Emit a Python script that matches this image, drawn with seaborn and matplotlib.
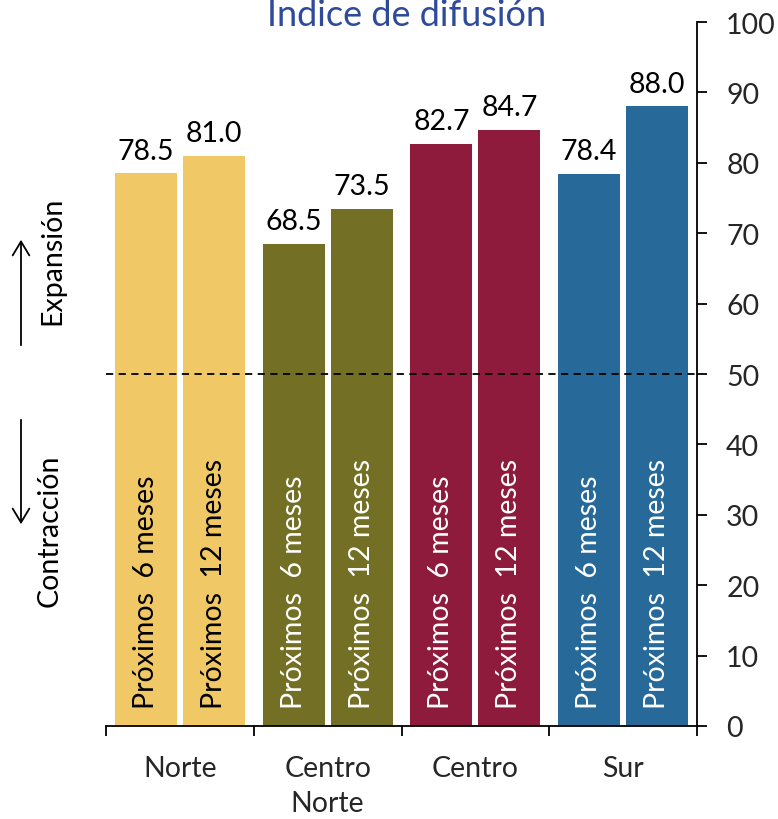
import matplotlib
matplotlib.use("Agg")
import matplotlib.pyplot as plt
import seaborn as sns
import pandas as pd
import numpy as np

regions = ["Norte", "Centro\nNorte", "Centro", "Sur"]
periods = ["Próximos  6 meses", "Próximos  12 meses"]
val_6m = [78.5, 68.5, 82.7, 78.4]
val_12m = [81.0, 73.5, 84.7, 88.0]
region_colors = ["#F0C966", "#737025", "#8E1B3C", "#276A9A"]
inner_text_colors = ["black", "white", "white", "white"]
yticks = [0, 10, 20, 30, 40, 50, 60, 70, 80, 90, 100]

df = pd.DataFrame({
    "region": regions * 2,
    "period": [periods[0]] * 4 + [periods[1]] * 4,
    "value": val_6m + val_12m,
})

sns.set_theme(style="white")
plt.rcParams["font.family"] = ["Lato", "DejaVu Sans"]

fig = plt.figure(figsize=(7.78, 8.2), dpi=100)
ax = fig.add_axes([106 / 778, 1 - 727 / 820, (697 - 106) / 778, (727 - 23) / 820])

sns.barplot(data=df, x="region", y="value", hue="period", order=regions,
            hue_order=periods, width=0.92, gap=0.087, legend=False, ax=ax,
            saturation=1, errorbar=None)

FS = 20.5
for h, (per, vals) in enumerate(zip(periods, [val_6m, val_12m])):
    for i in range(len(regions)):
        p = ax.patches[h * len(regions) + i]
        p.set_facecolor(region_colors[i])
        p.set_edgecolor("none")
        cx = p.get_x() + p.get_width() / 2
        v = p.get_height()
        ax.annotate(f"{vals[i]:.1f}", (cx, v), xytext=(0, 7), textcoords="offset points",
                    ha="center", va="bottom", fontsize=FS, color="black")
        ax.text(cx, 2.6, per, rotation=90, ha="center", va="bottom",
                fontsize=FS, color=inner_text_colors[i])

ax.axhline(50, color="black", linestyle=(0, (4, 3)), linewidth=1.3, zorder=5)

ax.set_xlim(-0.5, 3.5)
ax.set_ylim(0, 100)
ax.set_xlabel("")
ax.set_ylabel("")

ax.yaxis.tick_right()
ax.set_yticks(yticks)
ax.set_yticklabels([str(t) for t in yticks], fontsize=FS)
ax.tick_params(axis="y", which="major", direction="out", length=7, width=1.3,
               color="black", pad=14, right=True, left=False)

ax.set_xticks([-0.5, 0.5, 1.5, 2.5, 3.5])
ax.set_xticklabels([])
ax.set_xticks([0, 1, 2, 3], minor=True)
ax.set_xticklabels(regions, minor=True, fontsize=FS, linespacing=1.4)
ax.tick_params(axis="x", which="minor", length=0, pad=21, bottom=True)
ax.tick_params(axis="x", which="major", direction="out", length=7, width=1.3,
               color="black", bottom=True)

for s in ["top", "left"]:
    ax.spines[s].set_visible(False)
for s in ["bottom", "right"]:
    ax.spines[s].set_visible(True)
    ax.spines[s].set_color("black")
    ax.spines[s].set_linewidth(1.3)

fig.text(407 / 778, 1 - 15 / 820, "Índice de difusión", ha="center", va="center",
         fontsize=26, color="#2E4A9A")

def fy(y):
    return 1 - y / 820

fig.patches.append(matplotlib.patches.FancyArrowPatch(
    (21 / 778, fy(349)), (21 / 778, fy(238)), transform=fig.transFigure,
    arrowstyle="->,head_length=10,head_width=6", color="black", linewidth=1.3,
    mutation_scale=1))
fig.patches.append(matplotlib.patches.FancyArrowPatch(
    (21 / 778, fy(418)), (21 / 778, fy(528)), transform=fig.transFigure,
    arrowstyle="->,head_length=10,head_width=6", color="black", linewidth=1.3,
    mutation_scale=1))
fig.text(52 / 778, fy(261), "Expansión", rotation=90, ha="center", va="center",
         fontsize=FS, color="black")
fig.text(50 / 778, fy(531), "Contracción", rotation=90, ha="center", va="center",
         fontsize=FS, color="black")

fig.savefig("out.png", dpi=100)
